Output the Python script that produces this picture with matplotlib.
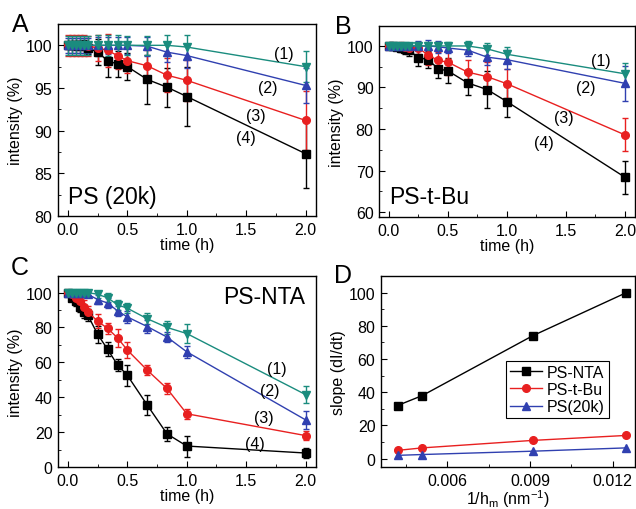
import matplotlib
matplotlib.use('Agg')
import matplotlib.pyplot as plt
from matplotlib.ticker import MultipleLocator, FixedLocator, FormatStrFormatter

plt.rcParams['font.family'] = ['Liberation Sans', 'DejaVu Sans']
plt.rcParams['mathtext.fontset'] = 'custom'
plt.rcParams['mathtext.rm'] = 'Liberation Sans'
plt.rcParams['mathtext.it'] = 'Liberation Sans'

t = [0, 0.033, 0.067, 0.1, 0.133, 0.167, 0.25, 0.333, 0.417, 0.5, 0.667, 0.833, 1.0, 2.0]

# panel A: PS (20k)
a1 = [100, 100, 100, 100, 100, 100, 100, 100, 100, 100, 100, 100, 99.8, 97.5]
a1e = [1.1, 1.1, 1.1, 1.1, 1.1, 1.1, 1.2, 1.2, 1.2, 1.1, 1.1, 1.2, 1.4, 1.8]
a2 = [100, 100, 100, 100, 100, 100, 100, 100, 100, 100, 99.9, 99.2, 98.8, 95.3]
a2e = [0.9, 0.9, 0.9, 0.9, 0.9, 0.9, 1.0, 1.0, 1.0, 1.0, 1.1, 1.2, 1.4, 2.0]
a3 = [100, 100, 100, 100, 100, 99.9, 99.7, 99.4, 98.8, 98.2, 97.6, 96.5, 95.9, 91.2]
a3e = [1.2, 1.2, 1.2, 1.2, 1.2, 1.2, 1.5, 1.9, 1.6, 1.5, 1.8, 2.0, 2.4, 3.5]
a4 = [100, 100, 100, 100, 100, 99.7, 99.2, 98.2, 97.8, 97.5, 96.0, 95.1, 94.0, 87.3]
a4e = [0.4, 0.4, 0.5, 0.5, 0.6, 0.7, 1.5, 1.9, 1.5, 1.6, 2.9, 2.3, 3.5, 4.0]

# panel B: PS-t-Bu
b1 = [100, 100, 100, 100, 100, 100, 100, 100, 100, 100, 100, 99.3, 98.0, 93.3]
b1e = [0.8, 0.8, 0.8, 0.8, 0.8, 0.8, 1.0, 1.0, 1.0, 1.0, 1.2, 1.5, 1.8, 2.5]
b2 = [100, 100, 100, 100, 100, 100, 100, 100, 99.8, 99.5, 99.0, 97.3, 96.7, 91.0]
b2e = [0.8, 0.8, 0.8, 0.8, 0.8, 0.8, 1.2, 1.5, 1.5, 1.3, 1.5, 2.0, 2.3, 4.2]
b3 = [100, 100, 100, 100, 99.8, 99.5, 99.5, 97.8, 96.5, 96.1, 93.7, 92.6, 90.9, 78.6]
b3e = [0.8, 0.8, 0.8, 1.0, 1.0, 1.2, 1.5, 2.5, 2.0, 3.0, 3.0, 3.5, 3.5, 4.0]
b4 = [100, 100, 99.8, 99.5, 99.3, 99.0, 97.2, 96.7, 94.5, 94.0, 91.1, 89.5, 86.6, 68.4]
b4e = [0.6, 0.8, 0.8, 1.0, 1.2, 1.5, 2.0, 2.0, 2.2, 3.0, 3.0, 4.5, 3.8, 4.0]

# panel C: PS-NTA
c1 = [100, 100, 100, 100, 100, 100, 99.0, 97.0, 93.0, 91.0, 85.0, 80.0, 76.5, 41.5]
c1e = [1.0, 1.0, 1.0, 1.0, 1.2, 1.2, 2.0, 2.5, 3.0, 3.0, 3.0, 3.5, 5.5, 5.0]
c2 = [100, 100, 100, 100, 99.5, 99.0, 96.0, 94.0, 89.5, 86.0, 80.5, 74.5, 66.0, 27.0]
c2e = [1.0, 1.0, 1.0, 1.0, 1.2, 1.5, 2.5, 3.0, 3.0, 3.5, 3.5, 3.0, 3.5, 5.0]
c3 = [100, 99.0, 97.0, 95.0, 92.0, 89.0, 83.5, 79.5, 74.0, 67.0, 55.5, 45.0, 30.5, 18.0]
c3e = [1.0, 2.0, 2.5, 3.0, 3.5, 3.5, 4.0, 3.0, 5.0, 4.5, 3.0, 3.0, 3.0, 2.5]
c4 = [100, 97.0, 95.0, 92.0, 89.0, 87.0, 76.0, 67.5, 58.5, 52.5, 35.5, 19.0, 12.0, 8.0]
c4e = [1.0, 2.0, 2.5, 3.0, 3.5, 3.5, 5.0, 4.0, 3.5, 6.0, 5.5, 4.0, 6.0, 3.0]

# panel D
hm_inv = [0.0042, 0.0051, 0.0091, 0.0125]
slope_nta = [32, 38, 74, 100]
slope_tbu = [5, 6.5, 11, 14]
slope_ps = [2, 2.5, 4.5, 6.5]

black = 'black'
red = '#e82020'
blue = '#3040b0'
teal = '#1a8c7e'
fs = 11.5

fig = plt.figure(figsize=(6.36, 5.10), dpi=100)
axA = fig.add_axes([0.0912, 0.5745, 0.405, 0.3765])
axB = fig.add_axes([0.596, 0.5725, 0.402, 0.3745])
axC = fig.add_axes([0.0912, 0.0824, 0.405, 0.3745])
axD = fig.add_axes([0.599, 0.0824, 0.399, 0.3745])

def curves(ax, data):
    for y, e, c, m in data:
        ax.errorbar(t, y, yerr=e, color=c, marker=m, ms=5.5, lw=1, elinewidth=1,
                    capsize=2.5, capthick=1)

def style(ax):
    ax.tick_params(direction='in', which='both', labelsize=fs, top=False, right=False)
    ax.tick_params(which='major', length=4, pad=4)
    ax.tick_params(which='minor', length=2)
    for s in ax.spines.values():
        s.set_linewidth(1)

for ax, d in [(axA, [(a4, a4e, black, 's'), (a3, a3e, red, 'o'), (a2, a2e, blue, '^'), (a1, a1e, teal, 'v')]),
              (axB, [(b4, b4e, black, 's'), (b3, b3e, red, 'o'), (b2, b2e, blue, '^'), (b1, b1e, teal, 'v')]),
              (axC, [(c4, c4e, black, 's'), (c3, c3e, red, 'o'), (c2, c2e, blue, '^'), (c1, c1e, teal, 'v')])]:
    curves(ax, d)
    ax.set_xlim(-0.084, 2.084)
    ax.xaxis.set_major_locator(MultipleLocator(0.5))
    ax.xaxis.set_minor_locator(MultipleLocator(0.25))
    ax.set_xlabel('time (h)', fontsize=fs, labelpad=0)
    ax.set_ylabel('intensity (%)', fontsize=fs, labelpad=2)
    style(ax)

axA.set_ylim(80, 102.5)
axA.yaxis.set_major_locator(MultipleLocator(5))
axA.yaxis.set_minor_locator(MultipleLocator(2.5))
axB.set_ylim(58.8, 104.8)
axB.yaxis.set_major_locator(MultipleLocator(10))
axB.yaxis.set_minor_locator(MultipleLocator(5))
axC.set_ylim(0, 109.5)
axC.yaxis.set_major_locator(MultipleLocator(20))
axC.yaxis.set_minor_locator(MultipleLocator(10))

labs = ['(1)', '(2)', '(3)', '(4)']
for ax, pos in [(axA, [(1.82, 99.0), (1.68, 95.1), (1.58, 91.8), (1.50, 89.2)]),
                (axB, [(1.80, 96.4), (1.67, 90.0), (1.48, 82.8), (1.31, 76.8)]),
                (axC, [(1.76, 56.2), (1.70, 43.8), (1.65, 28.6), (1.57, 13.3)])]:
    for l, (x, y) in zip(labs, pos):
        ax.text(x, y, l, fontsize=fs, ha='center', va='center')

axA.text(0.04, 0.10, 'PS (20k)', transform=axA.transAxes, fontsize=16.5, va='center')
axB.text(0.04, 0.11, 'PS-t-Bu', transform=axB.transAxes, fontsize=16.5, va='center')
axC.text(0.96, 0.89, 'PS-NTA', transform=axC.transAxes, fontsize=16.5, va='center', ha='right')

axD.plot(hm_inv, slope_nta, color=black, marker='s', ms=5.5, lw=1, label='PS-NTA')
axD.plot(hm_inv, slope_tbu, color=red, marker='o', ms=5.5, lw=1, label='PS-t-Bu')
axD.plot(hm_inv, slope_ps, color=blue, marker='^', ms=5.5, lw=1, label='PS(20k)')
axD.set_xlim(0.0036, 0.0128)
axD.set_ylim(-5, 110)
axD.xaxis.set_major_locator(FixedLocator([0.006, 0.009, 0.012]))
axD.xaxis.set_minor_locator(FixedLocator([0.0045, 0.0075, 0.0105]))
axD.yaxis.set_major_locator(MultipleLocator(20))
axD.yaxis.set_minor_locator(MultipleLocator(10))
axD.xaxis.set_major_formatter(FormatStrFormatter('%.3f'))
axD.set_xlabel('1/h$_m$ (nm$^{-1}$)', fontsize=fs, labelpad=0)
axD.set_ylabel('slope (dI/dt)', fontsize=fs, labelpad=2)
style(axD)
leg = axD.legend(loc='upper left', bbox_to_anchor=(0.494, 0.557), fontsize=fs,
                 fancybox=False, edgecolor='black', framealpha=1, handlelength=2.0,
                 borderpad=0.25, labelspacing=0.15, handletextpad=0.3, borderaxespad=0)
leg.get_frame().set_linewidth(0.8)

# panel letters, positions in figure pixels (x left, y centre from top)
for letter, px, py in [('A', 12, 25), ('B', 335, 27), ('C', 11, 268), ('D', 334, 276)]:
    fig.text(px / 636, 1 - py / 510, letter, fontsize=18, va='center', ha='left')

fig.savefig('out.png', dpi=100)
